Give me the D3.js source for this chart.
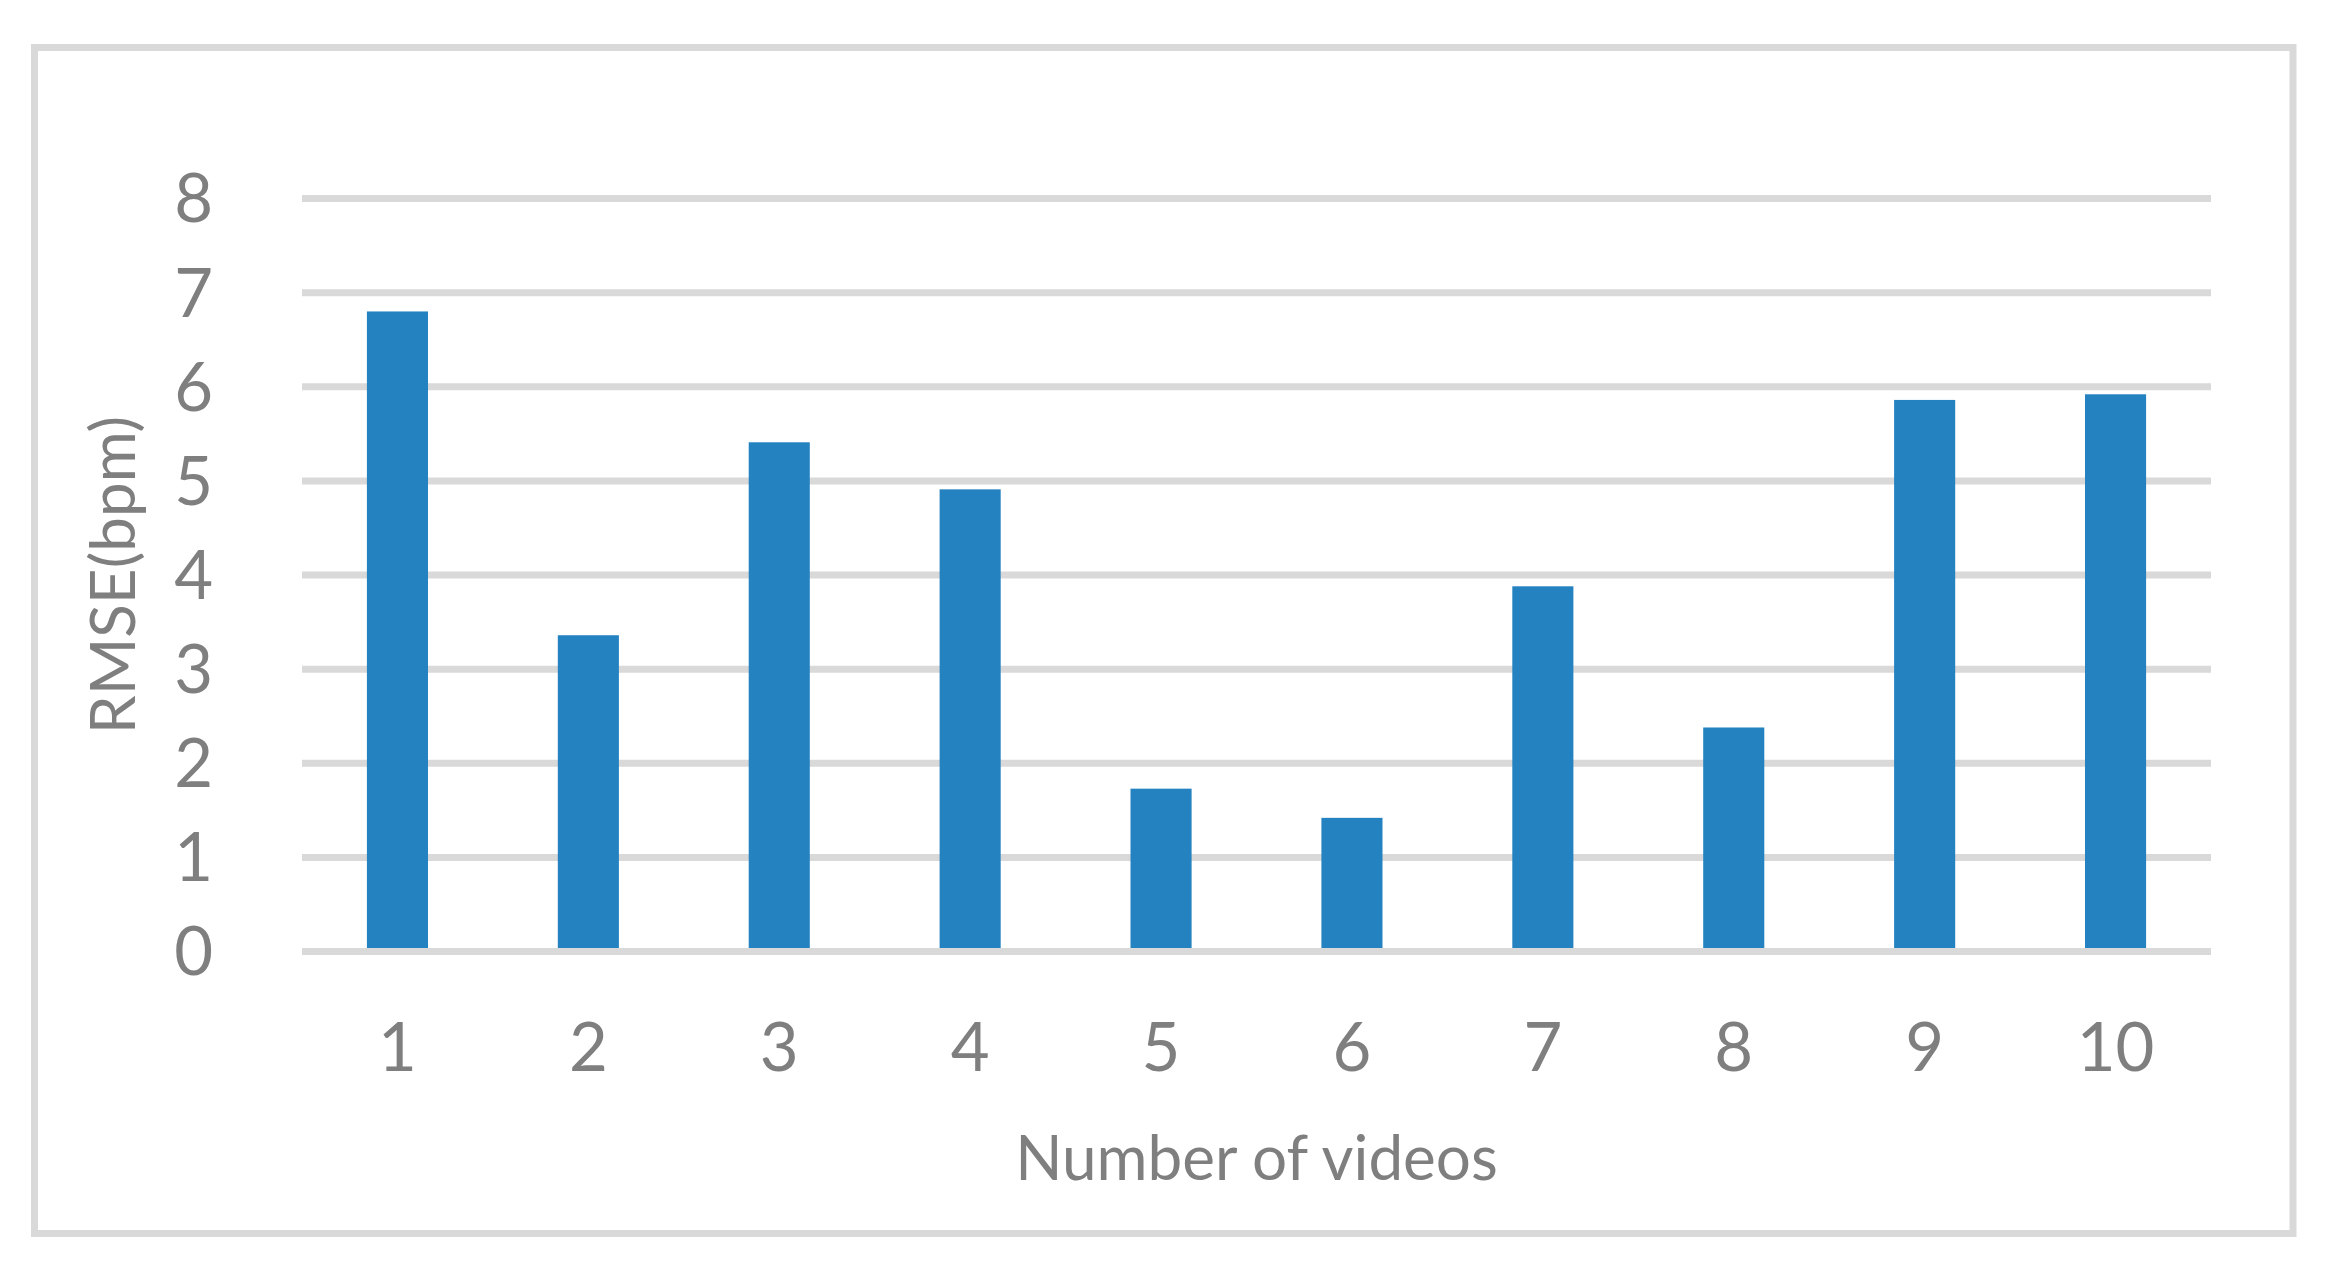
<!DOCTYPE html>
<html>
<head>
<meta charset="utf-8">
<script src="https://cdn.jsdelivr.net/npm/d3@7"></script>
<style>
  html, body { margin: 0; padding: 0; background: #ffffff; }
  svg { display: block; }
  text { font-family: Lato, "Open Sans", "Liberation Sans", sans-serif; fill: #7f7f7f; }
</style>
</head>
<body>
<script>
// ---- data ----
const categories = ["1", "2", "3", "4", "5", "6", "7", "8", "9", "10"];
const rmseValues = [6.80, 3.36, 5.41, 4.91, 1.73, 1.42, 3.88, 2.38, 5.86, 5.92];
const yTickValues = [0, 1, 2, 3, 4, 5, 6, 7, 8];
const xAxisTitle = "Number of videos";
const yAxisTitle = "RMSE(bpm)";

// ---- layout ----
const W = 2333, H = 1270;
const plot = { left: 302, right: 2211, top: 198.5, bottom: 951.5 };
const barFrac = 0.32;
const gridColor = "#d9d9d9";
const barColor = "#2482c0";

const svg = d3.select("body").append("svg")
  .attr("width", W).attr("height", H);

// outer frame
svg.append("rect")
  .attr("x", 34.5).attr("y", 47.5)
  .attr("width", 2293 - 34.5).attr("height", 1233.5 - 47.5)
  .attr("fill", "#ffffff")
  .attr("stroke", gridColor).attr("stroke-width", 7);

const x = d3.scaleBand().domain(categories).range([plot.left, plot.right]).padding(0);
const y = d3.scaleLinear().domain([0, 8]).range([plot.bottom, plot.top]);

// gridlines
svg.append("g").selectAll("line").data(yTickValues).join("line")
  .attr("x1", plot.left).attr("x2", plot.right)
  .attr("y1", d => y(d)).attr("y2", d => y(d))
  .attr("stroke", gridColor).attr("stroke-width", 7);

// bars
const bw = x.bandwidth() * barFrac;
svg.append("g").selectAll("rect").data(rmseValues).join("rect")
  .attr("x", (d, i) => x(categories[i]) + x.bandwidth() / 2 - bw / 2)
  .attr("width", bw)
  .attr("y", d => y(d))
  .attr("height", d => y(0) - y(d))
  .attr("fill", barColor);

// baseline on top
svg.append("line")
  .attr("x1", plot.left).attr("x2", plot.right)
  .attr("y1", y(0)).attr("y2", y(0))
  .attr("stroke", gridColor).attr("stroke-width", 7);

// y axis labels
const yAxis = d3.axisLeft(y).tickValues(yTickValues).tickSize(0).tickPadding(0).tickFormat(d3.format("d"));
const gy = svg.append("g").attr("transform", "translate(213,0)").call(yAxis);
gy.select(".domain").remove();
gy.selectAll("text")
  .attr("font-size", 67).attr("fill", "#7f7f7f")
  .attr("font-family", "Lato, 'Open Sans', sans-serif")
  .attr("dy", "0.35em");

// x axis labels
const xAxis = d3.axisBottom(x).tickSize(0).tickPadding(0);
const gx = svg.append("g").attr("transform", "translate(0,1071)").call(xAxis);
gx.select(".domain").remove();
gx.selectAll("text")
  .attr("font-size", 67).attr("fill", "#7f7f7f")
  .attr("font-family", "Lato, 'Open Sans', sans-serif")
  .attr("y", 0).attr("dy", 0);

// axis titles
svg.append("text")
  .attr("x", (plot.left + plot.right) / 2).attr("y", 1180)
  .attr("text-anchor", "middle").attr("font-size", 62)
  .text(xAxisTitle);

svg.append("text")
  .attr("transform", "translate(135,575) rotate(-90)")
  .attr("text-anchor", "middle").attr("font-size", 62)
  .text(yAxisTitle);
</script>
</body>
</html>
